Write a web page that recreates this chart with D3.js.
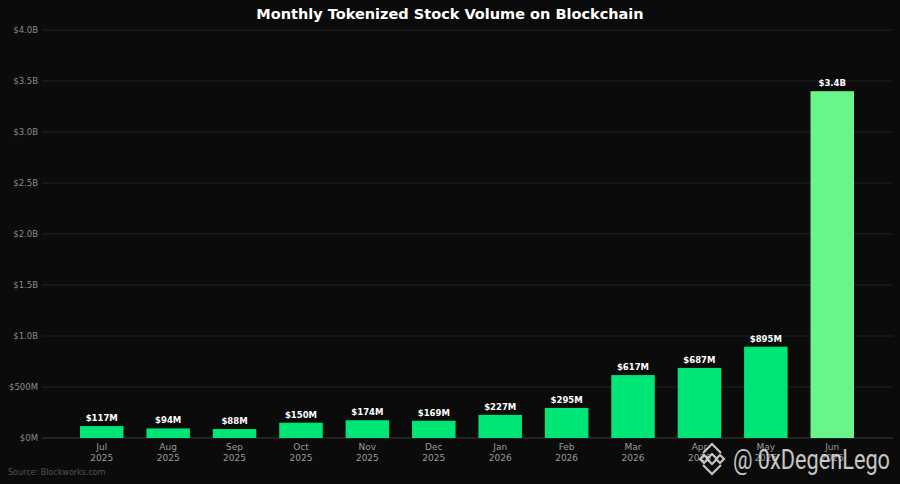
<!DOCTYPE html>
<html>
<head>
<meta charset="utf-8">
<script src="https://cdn.jsdelivr.net/npm/d3@7"></script>
<style>
  body { margin: 0; background: #0b0b0b; }
  svg { display: block; font-family: "DejaVu Sans", sans-serif; }
</style>
</head>
<body>
<div class="chart"></div>
<script>
// data
var months = ["Jul", "Aug", "Sep", "Oct", "Nov", "Dec", "Jan", "Feb", "Mar", "Apr", "May", "Jun"];
var years = ["2025", "2025", "2025", "2025", "2025", "2025", "2026", "2026", "2026", "2026", "2026", "2026"];
var volumes = [117e6, 94e6, 88e6, 150e6, 174e6, 169e6, 227e6, 295e6, 617e6, 687e6, 895e6, 3.4e9];
var valueLabels = ["$117M", "$94M", "$88M", "$150M", "$174M", "$169M", "$227M", "$295M", "$617M", "$687M", "$895M", "$3.4B"];
var yTicks = [0, 0.5e9, 1e9, 1.5e9, 2e9, 2.5e9, 3e9, 3.5e9, 4e9];
var yTickLabels = ["$0M", "$500M", "$1.0B", "$1.5B", "$2.0B", "$2.5B", "$3.0B", "$3.5B", "$4.0B"];

var svgWidth = 900;
var svgHeight = 484;
var margin = { top: 30, right: 7, bottom: 46, left: 42 };
var width = svgWidth - margin.left - margin.right;
var height = svgHeight - margin.top - margin.bottom;

var svg = d3.select(".chart")
  .append("svg")
  .attr("width", svgWidth)
  .attr("height", svgHeight);

svg.append("rect")
  .attr("width", svgWidth)
  .attr("height", svgHeight)
  .attr("fill", "#0b0b0b");

var chartGroup = svg.append("g")
  .attr("transform", `translate(${margin.left}, ${margin.top})`);

// scales
var x = d3.scaleBand()
  .domain(d3.range(months.length))
  .range([38, width - 39])
  .paddingInner(0.345)
  .paddingOuter(0);

var y = d3.scaleLinear()
  .domain([0, 4e9])
  .range([height, 0]);

// gridlines
chartGroup.append("g")
  .selectAll("line")
  .data(yTicks)
  .enter()
  .append("line")
  .attr("x1", 0)
  .attr("x2", width)
  .attr("y1", d => y(d))
  .attr("y2", d => y(d))
  .attr("stroke", d => d === 0 ? "#3a3a3a" : "#222222")
  .attr("stroke-width", 1);

// y axis labels
var leftAxis = d3.axisLeft(y)
  .tickValues(yTicks)
  .tickSize(0)
  .tickPadding(4)
  .tickFormat((d, i) => yTickLabels[i]);

var yAxisG = chartGroup.append("g").call(leftAxis);
yAxisG.select(".domain").remove();
yAxisG.selectAll("text")
  .attr("fill", "#8a8a8a")
  .style("font-size", "8.5px")
  .style("font-family", "DejaVu Sans, sans-serif");

// x axis labels (two lines)
var xLabels = chartGroup.append("g")
  .attr("transform", `translate(0, ${height})`)
  .selectAll("text")
  .data(months)
  .enter()
  .append("text")
  .attr("x", (d, i) => x(i) + x.bandwidth() / 2)
  .attr("y", 12)
  .attr("text-anchor", "middle")
  .attr("fill", "#9a9a9a")
  .style("font-size", "9px");

xLabels.append("tspan")
  .attr("x", (d, i) => x(i) + x.bandwidth() / 2)
  .text(d => d);
xLabels.append("tspan")
  .attr("x", (d, i) => x(i) + x.bandwidth() / 2)
  .attr("dy", "10.5")
  .text((d, i) => years[i]);

// bars
chartGroup.selectAll("rect.bar")
  .data(volumes)
  .enter()
  .append("rect")
  .attr("class", "bar")
  .attr("x", (d, i) => x(i))
  .attr("y", d => y(d))
  .attr("width", x.bandwidth())
  .attr("height", d => height - y(d))
  .attr("fill", (d, i) => i === volumes.length - 1 ? "#69f58c" : "#00e676");

// value labels
chartGroup.selectAll("text.val")
  .data(volumes)
  .enter()
  .append("text")
  .attr("class", "val")
  .attr("x", (d, i) => x(i) + x.bandwidth() / 2)
  .attr("y", d => y(d) - 5)
  .attr("text-anchor", "middle")
  .attr("fill", "#ffffff")
  .style("font-size", "8.5px")
  .style("font-weight", "bold")
  .text((d, i) => valueLabels[i]);

// title
svg.append("text")
  .attr("x", svgWidth / 2)
  .attr("y", 19)
  .attr("text-anchor", "middle")
  .attr("fill", "#ffffff")
  .style("font-size", "14.5px")
  .style("font-weight", "bold")
  .text("Monthly Tokenized Stock Volume on Blockchain");

// source
svg.append("text")
  .attr("x", 8)
  .attr("y", 475)
  .attr("fill", "#555555")
  .style("font-size", "8px")
  .text("Source: Blockworks.com");

// watermark
var wm = svg.append("g")
  .attr("transform", "translate(712, 459)")
  .attr("fill", "none")
  .attr("stroke", "#e6e6e6")
  .attr("stroke-width", 2.2)
  .attr("opacity", 0.85);

wm.append("path").attr("d", "M0,-5 L5,0 L0,5 L-5,0 Z");
wm.append("path").attr("d", "M-12,0 L-8,-4 L-4,0 L-8,4 Z");
wm.append("path").attr("d", "M12,0 L8,-4 L4,0 L8,4 Z");
wm.append("path").attr("d", "M-9,-6 L0,-15 L9,-6");
wm.append("path").attr("d", "M-9,6 L0,15 L9,6");

svg.append("text")
  .attr("x", 733)
  .attr("y", 469)
  .attr("fill", "#e6e6e6")
  .attr("opacity", 0.85)
  .style("font-family", "Roboto, sans-serif")
  .style("font-size", "28px")
  .attr("textLength", 157)
  .attr("lengthAdjust", "spacingAndGlyphs")
  .text("@ 0xDegenLego");
</script>
</body>
</html>
